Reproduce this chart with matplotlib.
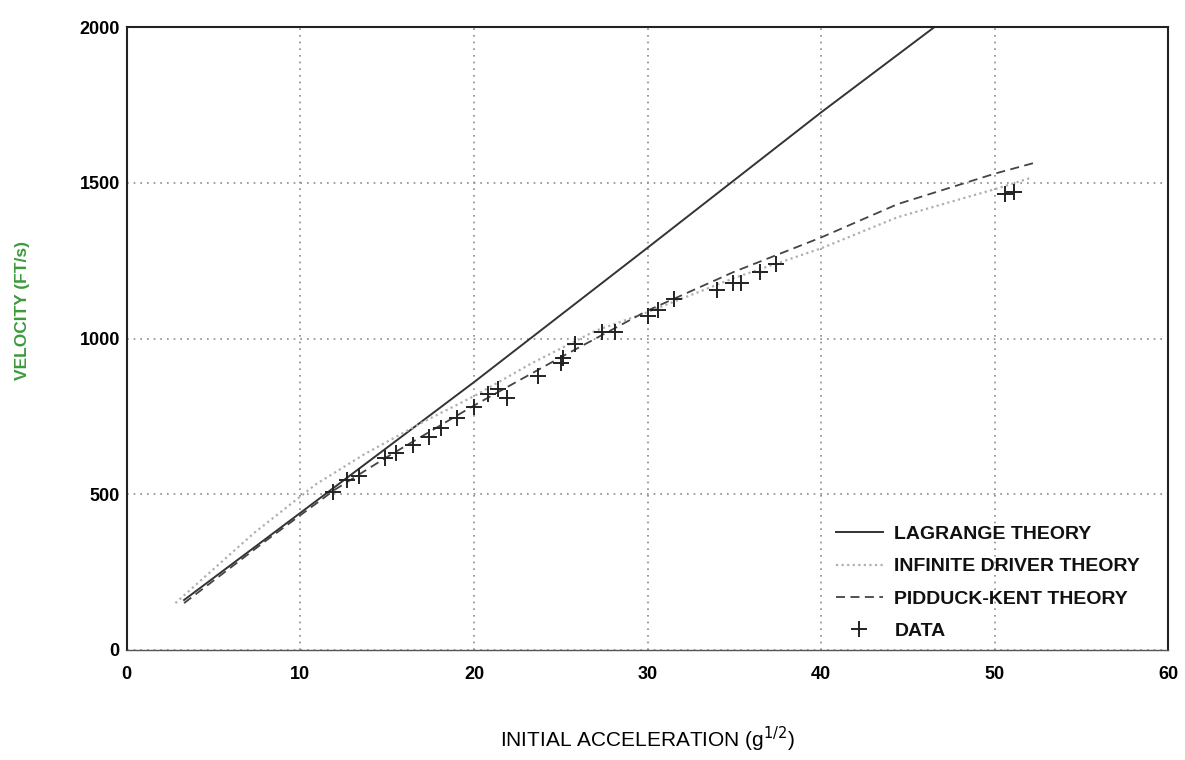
import matplotlib
matplotlib.use("Agg")
import matplotlib.pyplot as plt

plt.rcParams['font.family'] = ['Liberation Sans', 'DejaVu Sans']

# Lagrange theory (solid)
lag_x = [3.3, 10.0, 20.0, 30.0, 40.0, 46.5]
lag_y = [160, 440, 860, 1292, 1727, 2000]

# Infinite driver theory (dotted, light)
inf_x = [2.8, 7.3, 10.9, 13.7, 17.0, 20.0, 23.3, 27.0, 30.0, 35.0, 40.0, 44.4, 50.0, 52.0]
inf_y = [150, 374, 532, 629, 730, 815, 920, 1025, 1085, 1195, 1290, 1390, 1480, 1515]

# Pidduck-Kent theory (dashed)
pk_x = [3.3, 8.0, 12.0, 15.0, 20.0, 25.0, 28.0, 30.0, 35.0, 40.0, 44.4, 50.0, 52.3]
pk_y = [150, 350, 515, 620, 785, 940, 1030, 1090, 1215, 1325, 1432, 1530, 1565]

# Data points (+)
data_x = [11.9, 12.7, 13.4, 14.9, 15.5, 16.5, 17.4, 18.1, 19.0, 20.0, 20.8, 21.4,
          21.9, 23.7, 25.0, 25.1, 25.8, 27.4, 28.1, 30.0, 30.6, 31.5, 34.0, 34.9,
          35.4, 36.5, 37.4, 50.6, 51.1]
data_y = [507, 547, 557, 616, 633, 657, 684, 713, 746, 779, 822, 838,
          810, 879, 920, 938, 981, 1021, 1021, 1071, 1091, 1128, 1155, 1179,
          1179, 1215, 1239, 1465, 1470]

xticks = [0, 10, 20, 30, 40, 50, 60]
yticks = [0, 500, 1000, 1500, 2000]

fig = plt.figure(figsize=(11.85, 7.6), dpi=100)
ax = fig.add_axes([0.107, 0.145, 0.879, 0.819])

ax.plot(lag_x, lag_y, color='#333333', lw=1.4, ls='-', label='LAGRANGE THEORY')
ax.plot(inf_x, inf_y, color='#b0b0b0', lw=1.6, ls=(0, (1, 1.5)), label='INFINITE DRIVER THEORY')
ax.plot(pk_x, pk_y, color='#444444', lw=1.3, ls=(0, (5, 3)), label='PIDDUCK-KENT THEORY')
ax.plot(data_x, data_y, ls='none', marker='+', ms=11, mew=1.4, color='#222222', label='DATA')

ax.set_xlim(0, 60)
ax.set_ylim(0, 2000)
ax.set_xticks(xticks)
ax.set_yticks(yticks)
ax.set_xticklabels([str(t) for t in xticks], fontsize=13, fontweight='bold')
ax.set_yticklabels([str(t) for t in yticks], fontsize=13, fontweight='bold')
ax.tick_params(axis='x', length=0, pad=12)
ax.tick_params(axis='y', length=0, pad=5)

ax.grid(True, color='#8a8a8a', ls=(0, (1, 3)), lw=1.2)
for s in ['left', 'top', 'right']:
    ax.spines[s].set_color('#222222')
    ax.spines[s].set_linewidth(1.5)
ax.spines['bottom'].set_color('#555555')
ax.spines['bottom'].set_linewidth(1.0)

ax.set_xlabel('INITIAL ACCELERATION (g$^{1/2}$)', fontsize=15, labelpad=30)
fig.text(0.019, 0.592, 'VELOCITY (FT/s)', rotation=90, color='#3c9a3c',
         fontsize=12.5, fontweight='bold', ha='center', va='center')

leg = ax.legend(loc='lower left', bbox_to_anchor=(0.664, -0.012), frameon=False,
                prop={'size': 14, 'weight': 'bold'}, handlelength=2.4,
                labelspacing=0.75, handletextpad=0.6)
for t in leg.get_texts():
    t.set_color('#111111')

fig.savefig('out.png', dpi=100)
